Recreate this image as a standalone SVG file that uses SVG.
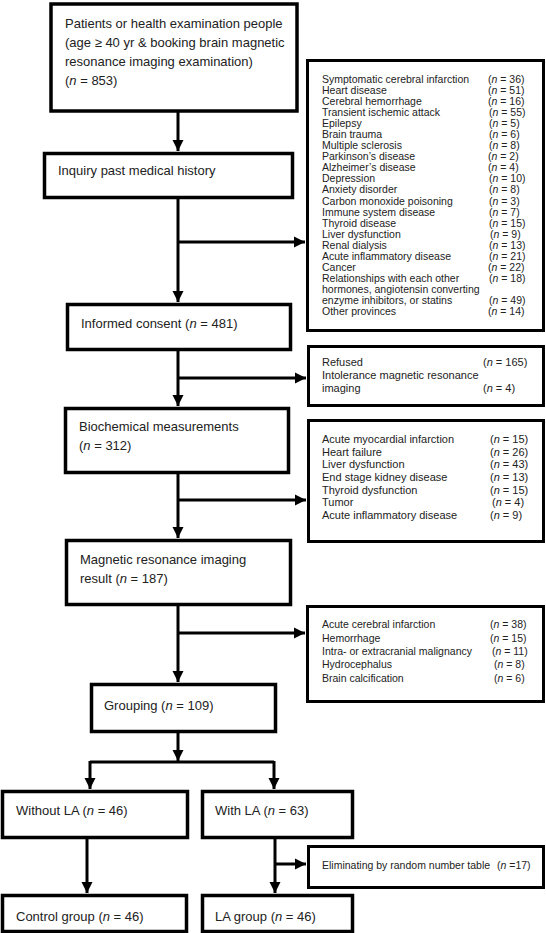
<svg xmlns="http://www.w3.org/2000/svg" width="546" height="933" viewBox="0 0 546 933">
<style>
.box{fill:#fff;stroke:#000;stroke-width:3.5}
.xbox{fill:#fff;stroke:#000;stroke-width:3}
.t{font-family:"Liberation Sans",Arial,sans-serif;font-size:13px;fill:#222}
.s{font-family:"Liberation Sans",Arial,sans-serif;font-size:10.5px;fill:#222}
.m{font-family:"Liberation Sans",Arial,sans-serif;font-size:11px;fill:#222}
.e{font-family:"Liberation Sans",Arial,sans-serif;font-size:10.5px;fill:#222}
.c{fill:none;stroke:#000;stroke-width:3}
.i{font-style:italic}
</style>
<defs>
<marker id="ah" markerUnits="userSpaceOnUse" markerWidth="12" markerHeight="12" refX="11" refY="6" orient="auto">
<path d="M0,0.5 L11,6 L0,11.5 z" fill="#000"/>
</marker>
</defs>
<rect width="546" height="933" fill="#fff"/>
<g id="connectors">
<path class="c" d="M178,112 V151" marker-end="url(#ah)"/>
<path class="c" d="M178,199 V302" marker-end="url(#ah)"/>
<path class="c" d="M178,242 H305" marker-end="url(#ah)"/>
<path class="c" d="M178,351 V406" marker-end="url(#ah)"/>
<path class="c" d="M178,378 H306" marker-end="url(#ah)"/>
<path class="c" d="M178,474 V538" marker-end="url(#ah)"/>
<path class="c" d="M178,500 H306" marker-end="url(#ah)"/>
<path class="c" d="M178,606 V682" marker-end="url(#ah)"/>
<path class="c" d="M178,633 H305" marker-end="url(#ah)"/>
<path class="c" d="M178,733 V761" marker-end="url(#ah)"/>
<path class="c" d="M90,762 H274"/>
<path class="c" d="M90,761 V789" marker-end="url(#ah)"/>
<path class="c" d="M274,761 V789" marker-end="url(#ah)"/>
<path class="c" d="M87,839 V893" marker-end="url(#ah)"/>
<path class="c" d="M275,839 V893" marker-end="url(#ah)"/>
<path class="c" d="M275,864 H306" marker-end="url(#ah)"/>
</g>
<g id="start">
<rect class="box" x="51" y="4" width="246" height="107"/>
<text class="t" x="65" y="28">Patients or health examination people</text>
<text class="t" x="65" y="47">(age ≥ 40 yr &amp; booking brain magnetic</text>
<text class="t" x="65" y="66">resonance imaging examination)</text>
<text class="t" x="65" y="85">(<tspan class="i">n</tspan> = 853)</text>
</g>
<g id="inquiry">
<rect class="box" x="44.5" y="153.5" width="248" height="44"/>
<text class="t" x="58" y="175">Inquiry past medical history</text>
</g>
<g id="consent">
<rect class="box" x="67.5" y="304.5" width="223" height="45"/>
<text class="t" x="81" y="328">Informed consent (<tspan class="i">n</tspan> = 481)</text>
</g>
<g id="biochem">
<rect class="box" x="65.5" y="408.5" width="223" height="64"/>
<text class="t" x="79" y="431">Biochemical measurements</text>
<text class="t" x="79" y="450">(<tspan class="i">n</tspan> = 312)</text>
</g>
<g id="mri">
<rect class="box" x="66.5" y="540.5" width="224" height="64"/>
<text class="t" x="80" y="564">Magnetic resonance imaging</text>
<text class="t" x="80" y="583">result (<tspan class="i">n</tspan> = 187)</text>
</g>
<g id="grouping">
<rect class="box" x="91.5" y="684.5" width="184" height="47"/>
<text class="t" x="104" y="710">Grouping (<tspan class="i">n</tspan> = 109)</text>
</g>
<g id="without">
<rect class="box" x="2.5" y="791.5" width="185" height="46"/>
<text class="t" x="16" y="815">Without LA (<tspan class="i">n</tspan> = 46)</text>
</g>
<g id="with">
<rect class="box" x="202.5" y="791.5" width="150" height="46"/>
<text class="t" x="215" y="815">With LA (<tspan class="i">n</tspan> = 63)</text>
</g>
<g id="control">
<rect class="box" x="2.5" y="895.5" width="184" height="36"/>
<text class="t" x="16" y="921">Control group (<tspan class="i">n</tspan> = 46)</text>
</g>
<g id="lagroup">
<rect class="box" x="202.5" y="895.5" width="150" height="36"/>
<text class="t" x="215" y="921">LA group (<tspan class="i">n</tspan> = 46)</text>
</g>
<g id="excl-history">
<rect class="xbox" x="307.5" y="60.5" width="236" height="270"/>
<text class="s" x="322" y="83">Symptomatic cerebral infarction</text><text class="s" x="488" y="83">(<tspan class="i">n</tspan> = 36)</text>
<text class="s" x="322" y="94">Heart disease</text><text class="s" x="488" y="94">(<tspan class="i">n</tspan> = 51)</text>
<text class="s" x="322" y="105">Cerebral hemorrhage</text><text class="s" x="488" y="105">(<tspan class="i">n</tspan> = 16)</text>
<text class="s" x="322" y="116">Transient ischemic attack</text><text class="s" x="489" y="116">(<tspan class="i">n</tspan> = 55)</text>
<text class="s" x="322" y="127">Epilepsy</text><text class="s" x="489" y="127">(<tspan class="i">n</tspan> = 5)</text>
<text class="s" x="322" y="138">Brain trauma</text><text class="s" x="489" y="138">(<tspan class="i">n</tspan> = 6)</text>
<text class="s" x="322" y="149">Multiple sclerosis</text><text class="s" x="489" y="149">(<tspan class="i">n</tspan> = 8)</text>
<text class="s" x="322" y="160">Parkinson’s disease</text><text class="s" x="488" y="160">(<tspan class="i">n</tspan> = 2)</text>
<text class="s" x="322" y="171">Alzheimer’s disease</text><text class="s" x="488" y="171">(<tspan class="i">n</tspan> = 4)</text>
<text class="s" x="322" y="182">Depression</text><text class="s" x="489" y="182">(<tspan class="i">n</tspan> = 10)</text>
<text class="s" x="322" y="193">Anxiety disorder</text><text class="s" x="489" y="193">(<tspan class="i">n</tspan> = 8)</text>
<text class="s" x="322" y="205">Carbon monoxide poisoning</text><text class="s" x="489" y="205">(<tspan class="i">n</tspan> = 3)</text>
<text class="s" x="322" y="216">Immune system disease</text><text class="s" x="489" y="216">(<tspan class="i">n</tspan> = 7)</text>
<text class="s" x="322" y="227">Thyroid disease</text><text class="s" x="489" y="227">(<tspan class="i">n</tspan> = 15)</text>
<text class="s" x="322" y="238">Liver dysfunction</text><text class="s" x="490" y="238">(<tspan class="i">n</tspan> = 9)</text>
<text class="s" x="322" y="249">Renal dialysis</text><text class="s" x="489" y="249">(<tspan class="i">n</tspan> = 13)</text>
<text class="s" x="322" y="260">Acute inflammatory disease</text><text class="s" x="489" y="260">(<tspan class="i">n</tspan> = 21)</text>
<text class="s" x="322" y="271">Cancer</text><text class="s" x="488" y="271">(<tspan class="i">n</tspan> = 22)</text>
<text class="s" x="322" y="282">Relationships with each other</text><text class="s" x="489" y="282">(<tspan class="i">n</tspan> = 18)</text>
<text class="s" x="322" y="293">hormones, angiotensin converting</text>
<text class="s" x="322" y="304">enzyme inhibitors, or statins</text><text class="s" x="489" y="304">(<tspan class="i">n</tspan> = 49)</text>
<text class="s" x="322" y="315">Other provinces</text><text class="s" x="488" y="315">(<tspan class="i">n</tspan> = 14)</text>
</g>
<g id="excl-consent">
<rect class="xbox" x="308.5" y="346.5" width="235" height="59"/>
<text class="m" x="322" y="366">Refused</text><text class="m" x="483" y="366">(<tspan class="i">n</tspan> = 165)</text>
<text class="m" x="322" y="379">Intolerance magnetic resonance</text>
<text class="m" x="322" y="392">imaging</text><text class="m" x="483" y="392">(<tspan class="i">n</tspan> = 4)</text>
</g>
<g id="excl-biochem">
<rect class="xbox" x="308.5" y="420.5" width="235" height="121"/>
<text class="m" x="322" y="443">Acute myocardial infarction</text><text class="m" x="490" y="443">(<tspan class="i">n</tspan> = 15)</text>
<text class="m" x="322" y="456">Heart failure</text><text class="m" x="490" y="456">(<tspan class="i">n</tspan> = 26)</text>
<text class="m" x="322" y="468">Liver dysfunction</text><text class="m" x="490" y="468">(<tspan class="i">n</tspan> = 43)</text>
<text class="m" x="322" y="481">End stage kidney disease</text><text class="m" x="490" y="481">(<tspan class="i">n</tspan> = 13)</text>
<text class="m" x="322" y="494">Thyroid dysfunction</text><text class="m" x="490" y="494">(<tspan class="i">n</tspan> = 15)</text>
<text class="m" x="322" y="506">Tumor</text><text class="m" x="492" y="506">(<tspan class="i">n</tspan> = 4)</text>
<text class="m" x="322" y="519">Acute inflammatory disease</text><text class="m" x="490" y="519">(<tspan class="i">n</tspan> = 9)</text>
</g>
<g id="excl-mri">
<rect class="xbox" x="307.5" y="606.5" width="236" height="95"/>
<text class="s" x="322" y="628">Acute cerebral infarction</text><text class="s" x="490" y="628">(<tspan class="i">n</tspan> = 38)</text>
<text class="s" x="322" y="642">Hemorrhage</text><text class="s" x="490" y="642">(<tspan class="i">n</tspan> = 15)</text>
<text class="s" x="322" y="655">Intra- or extracranial malignancy</text><text class="s" x="492" y="655">(<tspan class="i">n</tspan> = 11)</text>
<text class="s" x="322" y="668">Hydrocephalus</text><text class="s" x="494" y="668">(<tspan class="i">n</tspan> = 8)</text>
<text class="s" x="322" y="682">Brain calcification</text><text class="s" x="494" y="682">(<tspan class="i">n</tspan> = 6)</text>
</g>
<g id="excl-random">
<rect class="xbox" x="308.5" y="846.5" width="235" height="41"/>
<text class="e" x="322" y="869">Eliminating by random number table</text><text class="e" x="497" y="869">(<tspan class="i">n</tspan> =17)</text>
</g>
</svg>
